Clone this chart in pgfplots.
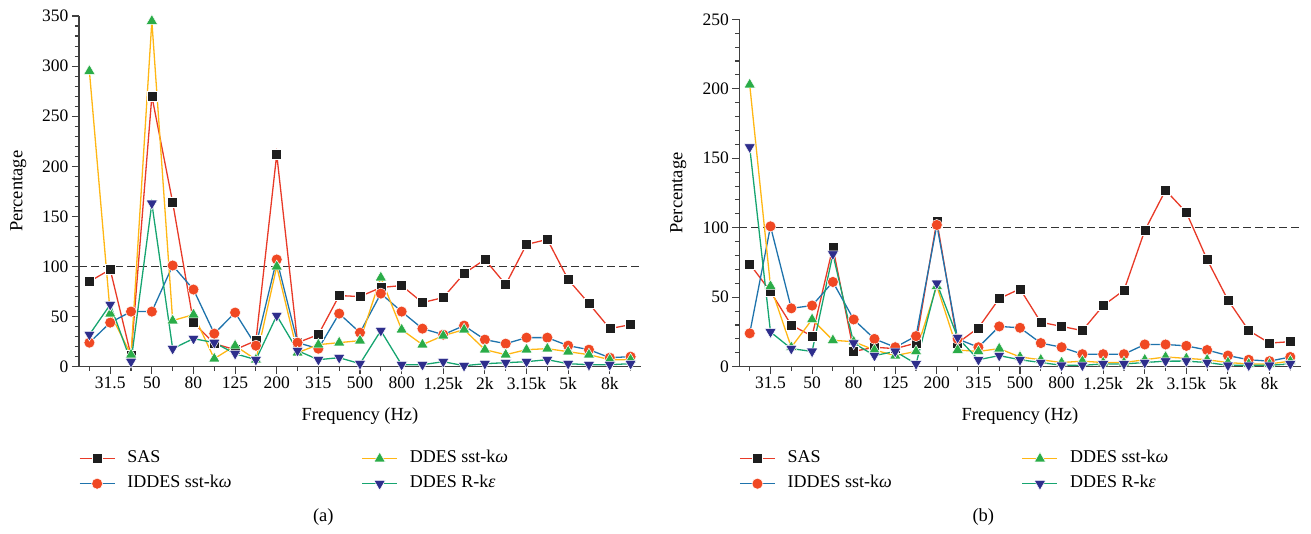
\documentclass[border=0pt]{standalone}
\usepackage{fontspec}
\setmainfont{Liberation Serif}
\usepackage{pgfplots}
\usepackage{pgfplotstable}
\pgfplotsset{compat=1.18}

\definecolor{sasline}{RGB}{232,58,40}
\definecolor{sasmark}{RGB}{30,30,30}
\definecolor{iddesline}{RGB}{30,115,172}
\definecolor{iddesmark}{RGB}{240,72,35}
\definecolor{sstline}{RGB}{255,183,20}
\definecolor{sstmark}{RGB}{42,172,72}
\definecolor{rkeline}{RGB}{22,165,112}
\definecolor{rkemark}{RGB}{46,46,140}

% panel (a)
\pgfplotstableread{
i sas iddes sst rke
0 85 24 295 32
1 97 44 53 62
2 11 55 12 5
3 270 55 345 163
4 164 101 46 18
5 44 77 52 28
6 23 33 8 24
7 17 54 21 13
8 26 21 7 7
9 212 107 100 51
10 24 24 14 16
11 32 18 22 7
12 71 53 24 9
13 70 34 26 3
14 79 73 89 36
15 81 55 37 2
16 64 38 22 2
17 69 32 31 5
18 93 41 37 1
19 107 27 17 3
20 82 23 12 4
21 122 29 17 5
22 127 29 18 7
23 87 21 15 3
24 63 17 12 2
25 38 9 7 2
26 42 10 7 3
}\dataA

% panel (b)
\pgfplotstableread{
i sas iddes sst rke
0 74 24 203 158
1 54 101 58 25
2 30 42 14 13
3 22 44 34 11
4 86 61 19 81
5 11 34 18 17
6 14 20 12 8
7 13 14 8 11
8 17 22 11 2
9 105 102 58 60
10 17 20 12 21
11 28 14 11 5
12 49 29 13 8
13 56 28 7 5
14 32 17 5 3
15 29 14 3 1
16 26 9 4 1
17 44 9 3 2
18 55 9 3 2
19 98 16 5 3
20 127 16 7 4
21 111 15 6 4
22 77 12 5 3
23 48 8 3 1
24 26 5 2 1
25 17 4 2 1
26 18 7 4 2
}\dataB

\pgfplotsset{
  panel/.style={
    scale only axis, anchor=south west,
    xmin=-0.5, xmax=26.5, ymin=0,
    axis x line*=bottom, axis y line*=left,
    axis line style={-, line width=1.1pt, color=black!75},
    xtick={1,3,...,25},
    xticklabels={31.5,50,80,125,200,315,500,800,1.25k,2k,3.15k,5k,8k},
    minor xtick={0,2,...,26},
    minor y tick num=4,
    tick align=outside,
    major tick length=7pt, minor tick length=4pt,
    tick style={black!75, line width=1.1pt},
    /pgf/number format/assume math mode=true,
    tick label style={font=\fontsize{17.5}{20}\selectfont},
    label style={font=\fontsize{18.5}{22}\selectfont},
    xlabel={Frequency (Hz)},
    ylabel={Percentage},
    legend columns=2, transpose legend,
    legend cell align=left,
    legend style={draw=none, fill=none, font=\fontsize{18}{21}\selectfont,
       at={(axis description cs:0,0)}, anchor=north west, yshift=-84pt,
       inner sep=0pt, outer sep=0pt, row sep=9pt,
       nodes={inner sep=0pt, text height=12pt, text depth=4pt},
       /tikz/every odd column/.append style={column sep=12pt},
       /tikz/every even column/.append style={column sep=130pt}},
    legend image code/.code={\draw[mark repeat=2,mark phase=2,##1] plot coordinates {(0pt,0pt) (17.5pt,0pt) (35pt,0pt)};},
  },
  sas/.style={color=sasline, line width=1.3pt, mark=square*, mark size=5pt, mark options={fill=sasmark, draw=white, line width=0.5pt}},
  iddes/.style={color=iddesline, line width=1.3pt, mark=*, mark size=5.5pt, mark options={fill=iddesmark, draw=white, line width=0.5pt}},
  sst/.style={color=sstline, line width=1.3pt, mark=triangle*, mark size=6.5pt, mark options={fill=sstmark, draw=white, line width=0.5pt}},
  rke/.style={color=rkeline, line width=1.3pt, mark=triangle*, mark size=6.5pt, mark options={rotate=180, fill=rkemark, draw=white, line width=0.5pt}},
  refline/.style={black!80, line width=1.1pt, dash pattern=on 8pt off 4pt, forget plot},
}

\begin{document}
\begin{tikzpicture}
\useasboundingbox (0,0) rectangle (1311pt,533pt);

\begin{axis}[panel,
  at={(79pt,166.3pt)}, width=562pt, height=350.7pt,
  ymax=350, ytick={0,50,...,350},
  xlabel style={at={(axis description cs:0.5,-0.1406)}, anchor=center},
  ylabel style={at={(axis description cs:-0.108,0.5)}, anchor=center},
]
\addplot[refline] coordinates {(-0.5,100) (26.5,100)};
\addplot[sas] table[x=i, y=sas] {\dataA};
\addlegendentry{SAS}
\addplot[iddes] table[x=i, y=iddes] {\dataA};
\addlegendentry{IDDES sst-k\textit{ω}}
\addplot[sst] table[x=i, y=sst] {\dataA};
\addlegendentry{DDES sst-k\textit{ω}}
\addplot[rke] table[x=i, y=rke] {\dataA};
\addlegendentry{DDES R-k\textit{ε}}
\end{axis}

\begin{axis}[panel,
  at={(739.3pt,166.3pt)}, width=561.4pt, height=347.4pt,
  ymax=250, ytick={0,50,...,250},
  xlabel style={at={(axis description cs:0.5,-0.1419)}, anchor=center},
  ylabel style={at={(axis description cs:-0.1087,0.5)}, anchor=center},
]
\addplot[refline] coordinates {(-0.5,100) (26.5,100)};
\addplot[sas] table[x=i, y=sas] {\dataB};
\addlegendentry{SAS}
\addplot[iddes] table[x=i, y=iddes] {\dataB};
\addlegendentry{IDDES sst-k\textit{ω}}
\addplot[sst] table[x=i, y=sst] {\dataB};
\addlegendentry{DDES sst-k\textit{ω}}
\addplot[rke] table[x=i, y=rke] {\dataB};
\addlegendentry{DDES R-k\textit{ε}}
\end{axis}

\node[font=\fontsize{18.5}{22}\selectfont] at (323.3pt,16.3pt) {(a)};
\node[font=\fontsize{18.5}{22}\selectfont] at (983.3pt,16.3pt) {(b)};
\end{tikzpicture}
\end{document}
